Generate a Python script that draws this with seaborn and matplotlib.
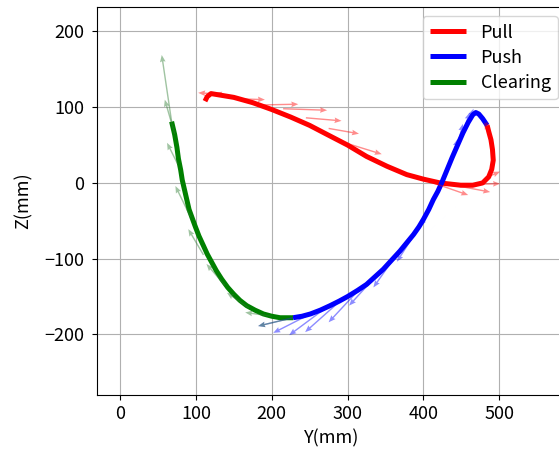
import matplotlib
matplotlib.use("Agg")
import matplotlib.pyplot as plt
import seaborn as sns

# trajectory of the hand, Y / Z in mm
pull_y = [112, 115, 120, 132, 150, 175, 200, 225, 250, 273, 300, 325, 352, 378,
          400, 422, 449, 465, 478, 486, 490, 492, 491, 489, 486, 484]
pull_z = [108, 114, 118, 116, 113, 106, 97, 87, 76, 64, 50, 35, 22, 11,
          5, 0, -3, -3, 0, 8, 18, 30, 44, 57, 68, 76]

push_y = [484, 478, 473, 469, 465, 459, 452, 445, 438, 431, 424, 419, 413, 407,
          400, 394, 387, 378, 369, 358, 347, 336, 325, 313, 300, 289, 277, 264,
          251, 240, 228]
push_z = [76, 85, 91, 93, 90, 80, 66, 50, 34, 17, 0, -11, -22, -35,
          -48, -58, -68, -79, -90, -102, -114, -124, -134, -142, -150, -156, -162, -168,
          -173, -176, -178]

clear_y = [228, 220, 211, 200, 189, 178, 167, 158, 150, 142, 134, 127, 121, 115,
           110, 104, 99, 95, 91, 88, 85, 82, 80, 77, 75, 72, 68]
clear_z = [-178, -178, -178, -176, -173, -168, -162, -155, -147, -138, -127, -116, -105, -94,
           -83, -70, -57, -46, -35, -22, -9, 4, 17, 32, 47, 64, 81]

# force vectors: base point and components
pull_fy0 = [122, 138, 160, 185, 215, 245, 275, 300, 413, 435, 457, 485, 484]
pull_fz0 = [118, 116, 111, 103, 98, 86, 72, 52, 0, -2, -2, 8, 80]
pull_fu = [-19, -13, 31, 50, 58, 47, 40, 45, 46, 53, 44, 16, -3]
pull_fv = [1, 3, -1, 1, -2, -4, -7, -14, -16, -10, 1, 7, -10]

push_fy0 = [228, 251, 270, 290, 315, 340, 365, 392, 418, 440, 447, 455, 462]
push_fz0 = [-178, -173, -166, -156, -141, -120, -94, -62, -12, 40, 58, 75, 88]
push_fu = [-46, -49, -47, -46, -40, -38, -31, -27, -22, 5, 5, 6, 4]
push_fv = [-11, -25, -35, -41, -43, -42, -44, -42, -46, 18, 20, 18, 10]

clear_fy0 = [68, 72, 76, 93, 110, 138, 170, 200, 228]
clear_fz0 = [81, 65, 25, -45, -95, -135, -165, -176, -178]
clear_fu = [-13, -13, -14, -20, -20, -24, -29, -35, -46]
clear_fv = [88, 45, 28, 41, 34, 28, 20, 5, -11]

plt.rcParams['font.family'] = ['Noto Sans CJK JP', 'DejaVu Sans']
plt.rcParams['font.size'] = 13

fig = plt.figure(figsize=(5.59, 4.54), dpi=100)
ax = fig.add_axes([0.174, 0.130, 0.840, 0.854])

line_kw = dict(sort=False, estimator=None, linewidth=3.6,
               solid_joinstyle='round', solid_capstyle='butt', ax=ax)
sns.lineplot(x=pull_y, y=pull_z, color='red', label='Pull', **line_kw)
sns.lineplot(x=push_y, y=push_z, color='blue', label='Push', **line_kw)
sns.lineplot(x=clear_y, y=clear_z, color='green', label='Clearing', **line_kw)

qkw = dict(angles='xy', scale_units='xy', scale=1, width=0.003,
           headwidth=4, headlength=5, headaxislength=4.5, alpha=0.45, zorder=3)
ax.quiver(pull_fy0, pull_fz0, pull_fu, pull_fv, color='red', **qkw)
ax.quiver(push_fy0, push_fz0, push_fu, push_fv, color='blue', **qkw)
ax.quiver(clear_fy0, clear_fz0, clear_fu, clear_fv, color='#2e7d32', **qkw)

ax.set_xlim(-30, 589)
ax.set_ylim(-280, 232)
ax.set_xticks([0, 100, 200, 300, 400, 500])
ax.set_yticks([-200, -100, 0, 100, 200])
ax.tick_params(axis='y', pad=6)
ax.grid(True)
ax.set_xlabel('Y(mm)', labelpad=5)
ax.set_ylabel('Z(mm)', labelpad=8)
ax.legend(loc='upper right', fontsize=13, labelspacing=0.4)

fig.savefig('out.png', dpi=100)
